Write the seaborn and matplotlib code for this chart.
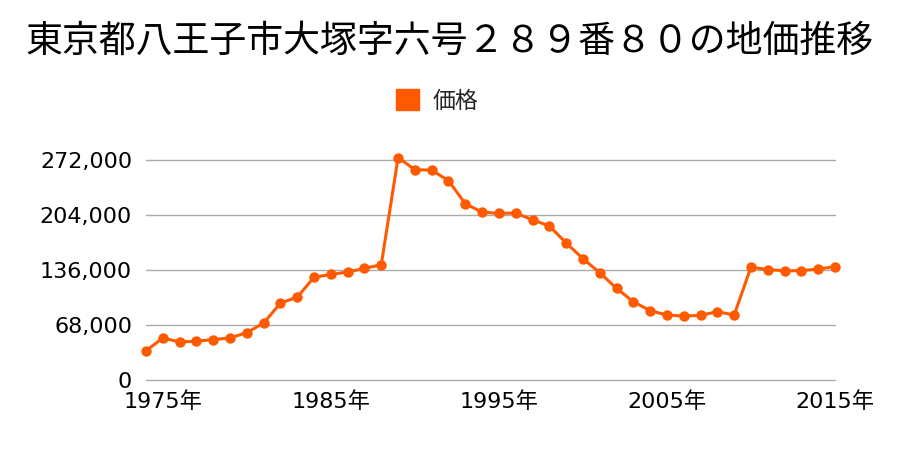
import matplotlib
matplotlib.use("Agg")
import matplotlib.pyplot as plt
from matplotlib.patches import Patch
from matplotlib.ticker import FuncFormatter
import seaborn as sns
import pandas as pd

years = list(range(1974, 2016))
prices = [36000, 52000, 47000, 48000, 50000, 52000, 58500, 70500, 95000, 102500,
          127000, 130500, 133500, 138000, 142500, 275000, 260000, 259500, 246500, 218000,
          207500, 206000, 206500, 198000, 190500, 169500, 150000, 132700, 113300, 96800,
          85700, 80300, 79100, 79900, 84500, 80300, 139700, 136400, 135100, 135100,
          137200, 140100]
series_name = "価格"
title = "東京都八王子市大塚字六号２８９番８０の地価推移"
yticks = [0, 68000, 136000, 204000, 272000]
xticks = [1975, 1985, 1995, 2005, 2015]

df = pd.DataFrame({"年": years, series_name: prices})

sns.set_theme(style="white")
plt.rcParams["font.family"] = ["Noto Sans CJK JP", "DejaVu Sans"]
tick_family = ["DejaVu Sans", "Noto Sans CJK JP"]

color = "#ff5a00"
fig = plt.figure(figsize=(9, 4.5), dpi=100)
ax = fig.add_axes([146 / 900, 1 - 380 / 450, (835 - 146) / 900, 220 / 450])

sns.lineplot(data=df, x="年", y=series_name, ax=ax, color=color, linewidth=2.2,
             marker="o", markersize=7.5, markeredgewidth=0, clip_on=False, legend=False)

ax.set_xlim(1974, 2015)
ax.set_ylim(0, 272000)
ax.set_yticks(yticks)
ax.set_xticks(xticks)
ax.set_xticklabels([f"{y}年" for y in xticks])
ax.yaxis.set_major_formatter(FuncFormatter(lambda v, p: f"{int(v):,}"))
ax.grid(axis="y", color="#aaaaaa", linewidth=1)
ax.grid(axis="x", visible=False)
for gl in ax.get_ygridlines():
    gl.set_clip_on(False)
ax.set_axisbelow(True)
for s in ax.spines.values():
    s.set_visible(False)
ax.tick_params(axis="both", length=0, labelsize=16, colors="black")
ax.tick_params(axis="y", pad=10)
ax.tick_params(axis="x", pad=8)
for lab in ax.get_xticklabels() + ax.get_yticklabels():
    lab.set_family(tick_family)
ax.set_xlabel("")
ax.set_ylabel("")

fig.text(0.5, 1 - 41 / 450, title, ha="center", va="center", fontsize=26.6, color="black")
fig.legend(handles=[Patch(facecolor=color, edgecolor=color)], labels=[series_name],
           loc="center", bbox_to_anchor=(0.5 - 13 / 900, 1 - 101 / 450), frameon=False,
           fontsize=16.5, handlelength=1.0, handleheight=1.0, handletextpad=0.6)

fig.savefig("out.png", dpi=100)
